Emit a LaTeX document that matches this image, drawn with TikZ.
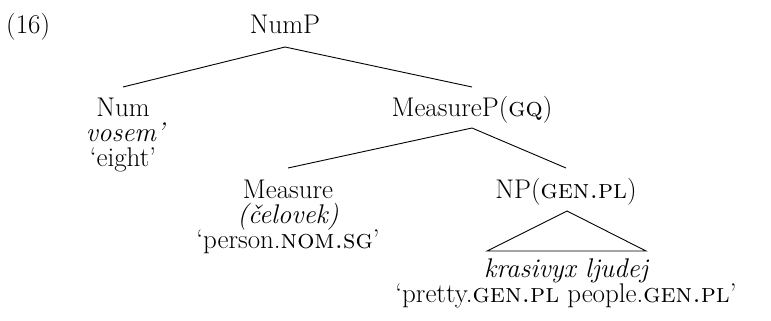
\documentclass[tikz,border=0pt]{standalone}
\begin{document}
\begin{tikzpicture}[x=1pt,y=-1pt,
  lab/.style={inner sep=0pt,anchor=base,font=\fontsize{27}{30}\selectfont},
  edge/.style={line width=0.9pt}]
\useasboundingbox (0,0) rectangle (771,321);
\node[lab,anchor=base west] (ex) at (6,34) {(16)};
\node[lab] (nump) at (285,34) {NumP};
\coordinate (numpb) at (285,47);
\node[lab] (num) at (123,116) {Num};
\coordinate (numt) at (123,87);
\node[lab] (vosem) at (125,141) {\itshape vosem'};
\node[lab] (eight) at (123,166) {`eight'};
\node[lab] (mp) at (472,116) {MeasureP(\textsc{gq})};
\coordinate (mpt) at (472,87);
\coordinate (mpb) at (472,128);
\node[lab] (meas) at (288,198) {Measure};
\coordinate (meast) at (288,168);
\node[lab] (cel) at (288,223) {\itshape (\v{c}elovek)};
\node[lab] (pers) at (288,248) {`person.\textsc{nom.sg}'};
\node[lab] (np) at (566,198) {NP(\textsc{gen.pl})};
\coordinate (npt) at (566,168);
\coordinate (npb) at (567,211);
\coordinate (tl) at (487,251);
\coordinate (tr) at (646,251);
\node[lab] (kras) at (566,277) {\itshape krasivyx ljudej};
\node[lab] (pretty) at (566,302) {`pretty.\textsc{gen.pl} people.\textsc{gen.pl}'};
\draw[edge] (numt) -- (numpb) -- (mpt);
\draw[edge] (meast) -- (mpb) -- (npt);
\draw[edge] (npb) -- (tl) -- (tr) -- cycle;
\end{tikzpicture}
\end{document}
